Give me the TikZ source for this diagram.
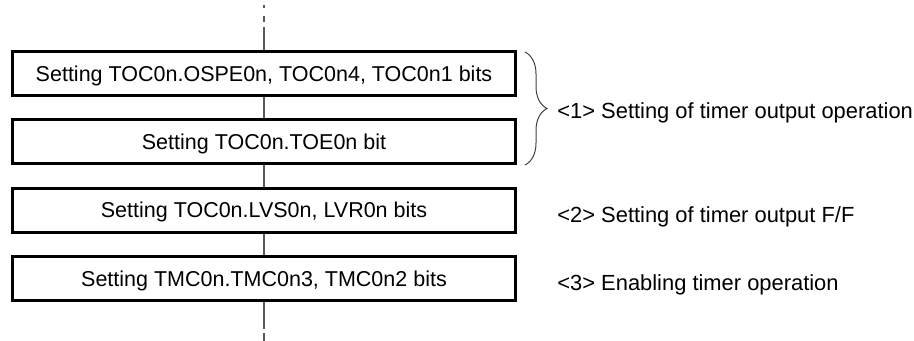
\documentclass[tikz,border=0pt]{standalone}
\usepackage{fontspec}
\setmainfont{Liberation Sans}
\usetikzlibrary{decorations.pathreplacing}

\begin{document}
\begin{tikzpicture}[x=0.5pt, y=-0.5pt,
  stepbox/.style={draw, line width=1.4pt, minimum width=251.5pt, minimum height=22pt,
    inner sep=0pt, text height=7.7pt, text depth=0pt, font=\fontsize{10.75}{13}\selectfont},
  flowline/.style={draw=black!65, line width=0.6pt},
  note/.style={anchor=base west, inner sep=0pt, font=\fontsize{10.95}{13}\selectfont}]
  \useasboundingbox (0,0) rectangle (914,341);
  % --- Steps ---
  \node[stepbox] (s1) at (264,73.5) {Setting TOC0n.OSPE0n, TOC0n4, TOC0n1 bits};
  \node[stepbox] (s2) at (264,141.9) {Setting TOC0n.TOE0n bit};
  \node[stepbox] (s3) at (264,210.3) {Setting TOC0n.LVS0n, LVR0n bits};
  \node[stepbox] (s4) at (264,278.7) {Setting TMC0n.TMC0n3, TMC0n2 bits};
  % --- Flow line ---
  \coordinate (intop) at (264,5);
  \coordinate (insolid) at (264,27);
  \coordinate (outsolid) at (264,329);
  \coordinate (outbot) at (264,341);
  \draw[flowline, dash pattern=on 1.5pt off 4pt on 3pt off 2.5pt] (intop) -- (insolid);
  \draw[flowline] (insolid) -- (s1);
  \draw[flowline] (s1) -- (s2);
  \draw[flowline] (s2) -- (s3);
  \draw[flowline] (s3) -- (s4);
  \draw[flowline] (s4) -- (outsolid);
  \draw[flowline, dash pattern=on 0pt off 2pt on 4pt off 2pt] (outsolid) -- (outbot);
  % --- Notes ---
  \coordinate (brtop) at (525,52);
  \coordinate (brbot) at (525,165);
  \draw[black!75, line width=0.5pt, decorate, decoration={brace, amplitude=11pt}] (brtop) -- (brbot);
  \node[note] (n1) at (557,119) {<1> Setting of timer output operation};
  \node[note] (n2) at (557,222.7) {<2> Setting of timer output F/F};
  \node[note] (n3) at (557,291) {<3> Enabling timer operation};
\end{tikzpicture}
\end{document}
